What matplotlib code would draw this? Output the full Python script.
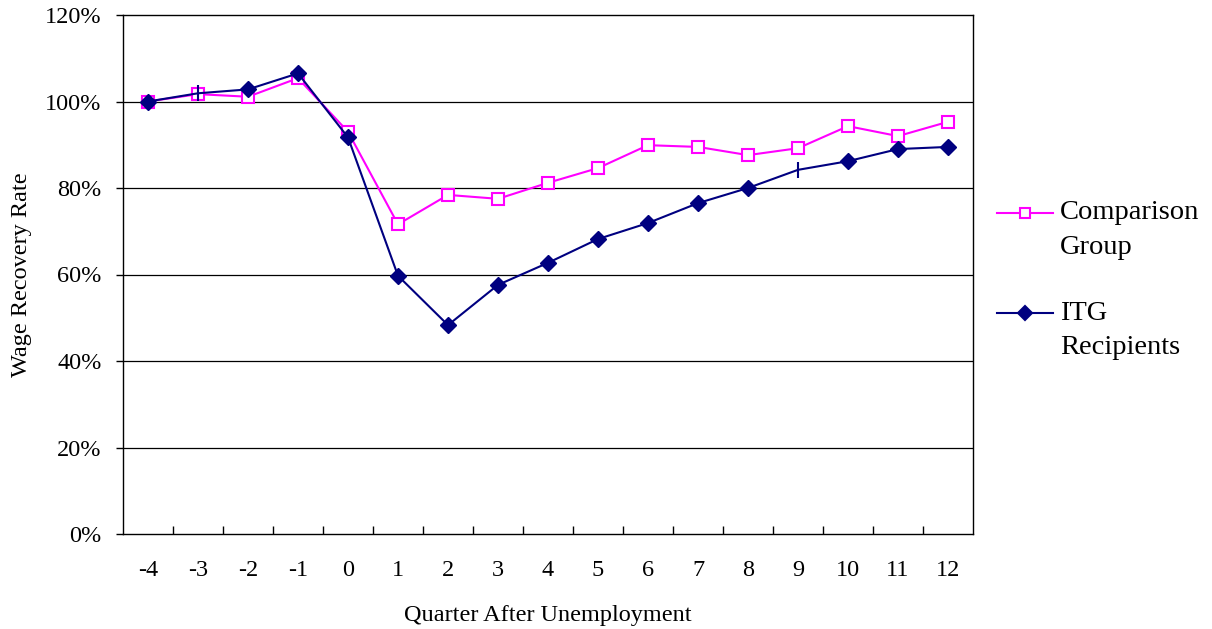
import matplotlib
matplotlib.use("Agg")
import matplotlib.pyplot as plt
from matplotlib.lines import Line2D
from matplotlib.ticker import FixedLocator, PercentFormatter

plt.rcParams['font.family'] = ['Liberation Serif', 'DejaVu Serif']

quarters = ["-4", "-3", "-2", "-1", "0", "1", "2", "3", "4", "5", "6", "7", "8", "9", "10", "11", "12"]
comparison = [100.0, 101.7, 101.1, 105.4, 93.0, 71.6, 78.4, 77.5, 81.2, 84.6, 89.9, 89.5, 87.6, 89.2, 94.3, 92.0, 95.3]
itg = [100.0, 101.9, 102.8, 106.5, 91.7, 59.7, 48.3, 57.6, 62.7, 68.2, 71.9, 76.5, 80.0, 84.2, 86.2, 89.0, 89.5]
yticks = [0, 20, 40, 60, 80, 100, 120]
series_labels = [("Comparison", "Group"), ("ITG", "Recipients")]

W, H = 1212, 629
fig = plt.figure(figsize=(W / 100, H / 100), dpi=100)
ax = fig.add_axes([123 / W, (H - 534) / H, 850 / W, 519 / H])

x = list(range(len(quarters)))
magenta = "#FF00FF"
navy = "#000080"

comp_style = dict(color=magenta, lw=1.5, marker="s", ms=8.5, mfc="white", mec=magenta, mew=1.5)
itg_style = dict(color=navy, lw=1.5, marker="D", ms=8.5, mfc=navy, mec=navy)

ax.plot(x, comparison, zorder=3, **comp_style)
diamond_idx = [i for i in x if i not in (1, 13)]
ax.plot(x, itg, markevery=diamond_idx, zorder=4, **itg_style)
ax.plot([x[1], x[13]], [itg[1], itg[13]], ls="none", marker="|", ms=11,
        mew=1.5, color=navy, zorder=5)

ax.set_xlim(-0.5, len(quarters) - 0.5)
ax.set_ylim(0, 120)
ax.set_xticks(x)
ax.set_xticklabels(quarters)
ax.xaxis.set_minor_locator(FixedLocator([i + 0.5 for i in range(len(quarters) - 1)]))
ax.tick_params(axis="x", which="major", length=0, pad=18.5, labelsize=17.5)
ax.tick_params(axis="x", which="minor", direction="in", length=6, width=1)
ax.set_yticks(yticks)
ax.yaxis.set_major_formatter(PercentFormatter(decimals=0))
ax.tick_params(axis="y", direction="out", length=5, width=1, labelsize=17.5, pad=10.5)

for v in yticks[1:-1]:
    ax.axhline(v, color="black", lw=0.9, zorder=1)
for s in ax.spines.values():
    s.set_color("black")
    s.set_linewidth(1)

ax.set_xlabel("Quarter After Unemployment", fontsize=17.5, labelpad=17.5)
ax.set_ylabel("Wage Recovery Rate", fontsize=17.5, labelpad=9.5)

# legend drawn manually: handle aligned with first text line (Excel style)
for (l1, l2), style, ypix in zip(series_labels, [comp_style, itg_style], [213, 313]):
    yf = 1 - ypix / H
    fig.add_artist(Line2D([997 / W, 1053 / W], [yf, yf], transform=fig.transFigure,
                          color=style["color"], lw=1.5))
    fig.add_artist(Line2D([1025 / W], [yf], transform=fig.transFigure, ls="none",
                          marker=style["marker"], ms=7.5, mfc=style["mfc"],
                          mec=style["mec"], mew=1.5))
    fig.text(1060 / W, yf, l1, fontsize=20.5, va="center", ha="left")
    fig.text(1060 / W, 1 - (ypix + 35) / H, l2, fontsize=20.5, va="center", ha="left")

fig.savefig("out.png", dpi=100)
